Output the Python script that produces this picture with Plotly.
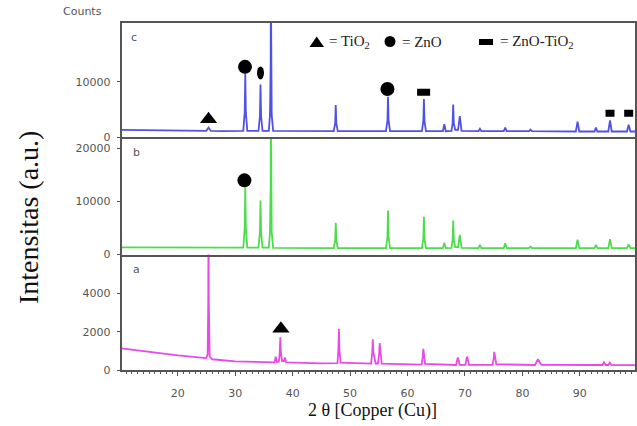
import plotly.graph_objects as go

W, H = 637, 426

# ---------------- data ----------------
# sample c (ZnO-TiO2) - blue
c_x = [10.2, 15, 20, 24.95, 25.35, 25.75, 28, 31.4, 31.65, 31.75, 31.85, 32.1,
       34.05, 34.3, 34.4, 34.5, 34.75, 35.85, 36.05, 36.17, 36.2, 36.23, 36.35, 36.6,
       40, 47.15, 47.4, 47.5, 47.6, 47.85, 52, 56.25, 56.5, 56.6, 56.7, 56.95,
       62.5, 62.75, 62.85, 62.95, 63.2, 66.15, 66.4, 66.65, 67.65, 67.85, 67.95, 68.05,
       68.3, 68.8, 69.1, 69.4, 72.35, 72.6, 72.85, 76.75, 77.0, 77.25, 81.15, 81.4, 81.65,
       89.3, 89.6, 89.9, 92.55, 92.8, 93.05, 94.95, 95.25, 95.55, 98.2, 98.5, 98.8, 99.6]
c_y = [1300, 1220, 1150, 1120, 1700, 1100, 1080, 1100, 4500, 11500, 4500, 1100,
       1100, 3800, 9500, 3800, 1100, 1100, 4000, 13300, 30000, 13300, 4000, 1100,
       1050, 1050, 2500, 5800, 2500, 1050, 1050, 1050, 3000, 7300, 3000, 1050,
       1050, 2900, 6900, 2900, 1050, 1050, 2300, 1050, 1100, 2500, 5900, 2500,
       1300, 1300, 3800, 1100, 1050, 1500, 1050, 1050, 1700, 1050, 1050, 1350, 1050,
       1000, 2800, 1000, 1000, 1700, 1000, 1000, 3000, 1000, 1000, 2200, 1000, 1000]

# sample b (ZnO) - green
b_x = [10.2, 15, 20, 25, 28, 31.4, 31.65, 31.75, 31.85, 32.1,
       34.05, 34.3, 34.4, 34.5, 34.75, 35.85, 36.05, 36.17, 36.2, 36.23, 36.35, 36.6,
       40, 47.15, 47.4, 47.5, 47.6, 47.85, 52, 56.25, 56.5, 56.6, 56.7, 56.95,
       62.5, 62.75, 62.85, 62.95, 63.2, 66.15, 66.4, 66.65, 67.65, 67.85, 67.95, 68.05,
       68.3, 68.8, 69.1, 69.4, 72.35, 72.6, 72.85, 76.75, 77.0, 77.25, 81.15, 81.4, 81.65,
       89.3, 89.6, 89.9, 92.55, 92.8, 93.05, 94.95, 95.25, 95.55, 98.2, 98.5, 98.8, 99.6]
b_y = [1350, 1330, 1300, 1280, 1260, 1280, 5000, 12700, 5000, 1280,
       1280, 4200, 10200, 4200, 1280, 1280, 4200, 13100, 30000, 13100, 4200, 1250,
       1220, 1220, 2700, 6000, 2700, 1220, 1200, 1200, 3400, 8300, 3400, 1200,
       1200, 3000, 7100, 3000, 1200, 1200, 2200, 1200, 1250, 2800, 6400, 2800,
       1400, 1400, 3700, 1250, 1200, 1800, 1200, 1200, 2100, 1200, 1200, 1500, 1200,
       1200, 2800, 1200, 1200, 1800, 1200, 1200, 2900, 1200, 1200, 1900, 1200, 1200]

# sample a (TiO2) - magenta
a_x = [10.2, 15, 20, 24.95, 25.2, 25.3, 25.35, 25.4, 25.55, 26, 30, 35,
       36.85, 37.05, 37.25, 37.6, 37.75, 37.85, 37.95, 38.15, 38.5, 38.65, 38.85,
       45, 47.8, 47.95, 48.05, 48.15, 48.35, 53.65, 53.85, 53.95, 54.05, 54.45,
       54.85, 55.05, 55.15, 55.5, 60, 62.45, 62.65, 62.75, 63.05, 68.45, 68.75, 69.1,
       70.05, 70.35, 70.7, 74.8, 75.0, 75.1, 75.45, 82.2, 82.7, 83.3,
       93.95, 94.2, 94.5, 94.95, 95.2, 95.5, 99.6]
a_y = [1130, 930, 760, 620, 800, 3500, 8000, 3500, 700, 560, 450, 400,
       400, 700, 420, 440, 900, 1700, 900, 470, 470, 650, 400,
       350, 360, 1000, 2150, 1000, 380, 330, 900, 1600, 900, 340,
       340, 800, 1400, 330, 280, 280, 700, 1100, 320, 260, 650, 270,
       270, 700, 270, 270, 600, 950, 300, 260, 560, 270,
       260, 400, 260, 260, 380, 260, 250]

# phase markers: (x, y) per panel
c_tri_x, c_tri_y = [25.35], [3200]
c_dot_x, c_dot_y = [31.7, 56.5], [12700, 8700]
c_ell_x, c_ell_y = [34.4], [11600]
c_rect_x, c_rect_y, c_rect_w = [62.8, 95.25, 98.5], [8100, 4300, 4300], [13, 9, 9]
b_dot_x, b_dot_y = [31.6], [14000]
a_tri_x, a_tri_y = [37.95], [2150]

x_ticks = [20, 30, 40, 50, 60, 70, 80, 90]
a_ticks = [0, 2000, 4000]
b_ticks = [0, 10000, 20000]
c_ticks = [0, 10000]

BLUE = "#5151e6"
GREEN = "#4cdc4c"
MAG = "#e84ae8"
FRAME = "#555555"
TICKC = "#555555"
LW = 1.8


def px(xp):
    return xp / W


def py(yp):
    return 1 - yp / H


fig = go.Figure()
fig.add_trace(go.Scatter(x=a_x, y=a_y, mode="lines", line=dict(color=MAG, width=LW),
                         xaxis="x", yaxis="y", showlegend=False))
fig.add_trace(go.Scatter(x=b_x, y=b_y, mode="lines", line=dict(color=GREEN, width=LW),
                         xaxis="x2", yaxis="y2", showlegend=False))
fig.add_trace(go.Scatter(x=c_x, y=c_y, mode="lines", line=dict(color=BLUE, width=LW),
                         xaxis="x3", yaxis="y3", showlegend=False))

mk = dict(color="black")
fig.add_trace(go.Scatter(x=c_tri_x, y=c_tri_y, mode="markers", xaxis="x3", yaxis="y3",
                         marker=dict(symbol="triangle-up", size=15, **mk), showlegend=False))
fig.add_trace(go.Scatter(x=c_dot_x, y=c_dot_y, mode="markers", xaxis="x3", yaxis="y3",
                         marker=dict(symbol="circle", size=14, **mk), showlegend=False))
fig.add_trace(go.Scatter(x=b_dot_x, y=b_dot_y, mode="markers", xaxis="x2", yaxis="y2",
                         marker=dict(symbol="circle", size=14, **mk), showlegend=False))
fig.add_trace(go.Scatter(x=a_tri_x, y=a_tri_y, mode="markers", xaxis="x", yaxis="y",
                         marker=dict(symbol="triangle-up", size=15, **mk), showlegend=False))

shapes = []
for ex, ey in zip(c_ell_x, c_ell_y):
    shapes.append(dict(type="circle", xref="x3", yref="y3", xsizemode="pixel", ysizemode="pixel",
                       xanchor=ex, yanchor=ey, x0=-3.5, x1=3.5, y0=-6.5, y1=6.5,
                       fillcolor="black", line=dict(width=0)))
for rx, ry, rw in zip(c_rect_x, c_rect_y, c_rect_w):
    shapes.append(dict(type="rect", xref="x3", yref="y3", xsizemode="pixel", ysizemode="pixel",
                       xanchor=rx, yanchor=ry, x0=-rw / 2, x1=rw / 2, y0=-3.5, y1=3.5,
                       fillcolor="black", line=dict(width=0)))

# legend symbols (paper coordinates)
shapes.append(dict(type="path", xref="paper", yref="paper",
                   path=f"M {px(309.5)} {py(47)} L {px(324)} {py(47)} L {px(316.7)} {py(36.5)} Z",
                   fillcolor="black", line=dict(width=0)))
shapes.append(dict(type="circle", xref="paper", yref="paper",
                   x0=px(384.5), x1=px(395.5), y0=py(47), y1=py(36),
                   fillcolor="black", line=dict(width=0)))
shapes.append(dict(type="rect", xref="paper", yref="paper",
                   x0=px(479), x1=px(493), y0=py(45), y1=py(39),
                   fillcolor="black", line=dict(width=0)))

XD = [px(121.5), px(635)]
common_x = dict(range=[10.2, 99.6], showgrid=False, zeroline=False, showline=True, mirror=True,
                linecolor=FRAME, linewidth=1.8, tickvals=x_ticks, automargin=False)
common_y = dict(showgrid=False, zeroline=False, showline=True, mirror=True, linecolor=FRAME,
                linewidth=1.8, ticks="outside", ticklen=3, tickcolor=FRAME, tickwidth=1,
                automargin=False, ticklabelstandoff=4,
                tickfont=dict(family="DejaVu Sans", size=11, color=TICKC))


def note(text, xp, yp, size, family="DejaVu Sans", color=TICKC, xanchor="center", **kw):
    return dict(text=text, x=px(xp), y=py(yp), xref="paper", yref="paper", showarrow=False,
                xanchor=xanchor, yanchor="middle",
                font=dict(family=family, size=size, color=color), **kw)


annotations = [
    note("Counts", 82, 12, 11),
    note("c", 134, 38, 11),
    note("b", 136, 153, 11),
    note("a", 136, 269, 11),
    note("= TiO<sub>2</sub>", 327, 42, 15, "Liberation Serif", "#222", "left"),
    note("= ZnO", 400, 42, 15, "Liberation Serif", "#222", "left"),
    note("= ZnO-TiO<sub>2</sub>", 498, 42, 15, "Liberation Serif", "#222", "left"),
    note("Intensitas (a.u.)", 29, 218, 28, "Liberation Serif", "#111", textangle=-90),
    note("2 θ [Copper (Cu)]", 373, 410, 18, "Liberation Serif", "#111"),
]

fig.update_layout(
    width=W, height=H, margin=dict(l=0, r=0, t=0, b=0, autoexpand=False),
    paper_bgcolor="white", plot_bgcolor="white", showlegend=False,
    xaxis=dict(domain=XD, anchor="y", ticks="outside", ticklen=4, tickcolor=FRAME,
               ticklabelstandoff=8,
               tickfont=dict(family="DejaVu Sans", size=11, color=TICKC),
               minor=dict(dtick=1, ticks="outside", ticklen=2, tickcolor=FRAME), **common_x),
    xaxis2=dict(domain=XD, anchor="y2", matches="x", showticklabels=False, ticks="", **common_x),
    xaxis3=dict(domain=XD, anchor="y3", matches="x", showticklabels=False, ticks="", **common_x),
    yaxis=dict(domain=[py(370), py(254)], anchor="x", range=[0, 6050], tickvals=a_ticks,
               ticktext=[str(v) for v in a_ticks], **common_y),
    yaxis2=dict(domain=[py(254.5), py(138.5)], anchor="x2", range=[0, 21900], tickvals=b_ticks,
                ticktext=[str(v) for v in b_ticks], **common_y),
    yaxis3=dict(domain=[py(137), py(22.7)], anchor="x3", range=[0, 20700], tickvals=c_ticks,
                ticktext=[str(v) for v in c_ticks], **common_y),
    shapes=shapes, annotations=annotations,
)

fig.write_html("out.html", config={"displayModeBar": False},
               post_script="document.body.style.margin='0';document.body.style.overflow='hidden';")
